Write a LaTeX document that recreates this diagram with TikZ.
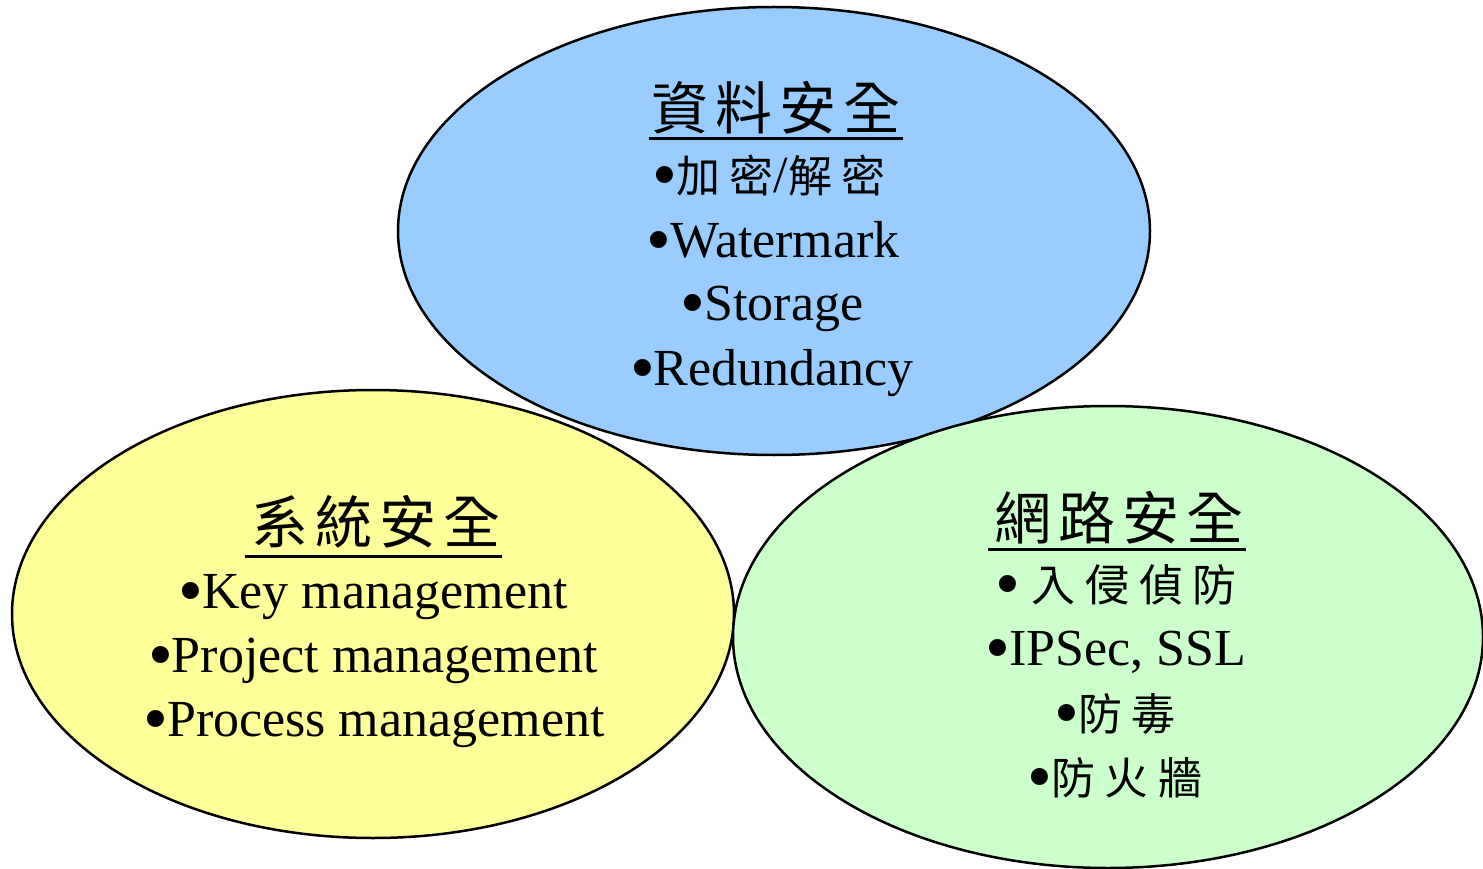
\documentclass[tikz,border=0pt]{standalone}
\usepackage{fontspec}
\setmainfont{Liberation Serif}
\newfontfamily\cjkt[LetterSpace=12]{Noto Sans CJK TC}
\newfontfamily\cjkb[LetterSpace=22]{Noto Sans CJK TC}
\usetikzlibrary{shapes.geometric,calc}
\definecolor{blueF}{HTML}{99CCFF}
\definecolor{yellowF}{HTML}{FFFF99}
\definecolor{greenF}{HTML}{CCFFCC}
\tikzset{
  ell/.style={ellipse, draw=black, line width=2.5pt, inner sep=0pt, outer sep=0pt},
  ttl/.style={inner sep=0pt, anchor=base, font=\fontsize{57}{57}\cjkt},
  item/.style={inner sep=0pt, anchor=base, font=\fontsize{52}{52}\selectfont},
  uline/.style={line width=3pt}
}
\newcommand{\cb}[1]{{\fontsize{44}{44}\cjkb #1}}
\newcommand{\bul}{\raisebox{-6pt}{\fontsize{71}{71}\selectfont •}\kern-1pt}
\begin{document}
\begin{tikzpicture}[x=1pt,y=-1pt]
\useasboundingbox (0,0) rectangle (1483,869);
\fill[white] (0,0) rectangle (1483,869);
% ellipses
\node[ell, fill=blueF, minimum width=752pt, minimum height=448pt] (blue) at (774,231) {};
\node[ell, fill=yellowF, minimum width=722pt, minimum height=448pt] (yellow) at (373,614) {};
\node[ell, fill=greenF, minimum width=750pt, minimum height=462pt] (green) at (1108,637) {};
% blue texts
\node[ttl] (bt) at (776,130) {資料安全};
\draw[uline] ($(bt.base)+(-127,9)$) -- ($(bt.base)+(127,9)$);
\node[item] (b1) at (769,193) {\bul\cb{加密}/\cb{解密}};
\node[item] (b2) at (773,257) {\bul Watermark};
\node[item] (b3) at (772,320) {\bul Storage};
\node[item] (b4) at (772,385) {\bul Redundancy};
% yellow texts
\node[ttl] (yt) at (376,543) {系統安全};
\draw[uline] ($(yt.base)+(-131,13)$) -- ($(yt.base)+(126,13)$);
\node[item] (y1) at (373,608) {\bul Key management};
\node[item] (y2) at (373,672) {\bul Project management};
\node[item] (y3) at (374,736) {\bul Process management};
% green texts
\node[ttl] (gt) at (1119,539) {網路安全};
\draw[uline] ($(gt.base)+(-131,10)$) -- ($(gt.base)+(127,10)$);
\node[item] (g1) at (1116,601) {\bul\ \cb{入侵偵防}};
\node[item] (g2) at (1116,665) {\bul IPSec, SSL};
\node[item] (g3) at (1115,730) {\bul\cb{防毒}};
\node[item] (g4) at (1115,794) {\bul\cb{防火牆}};
\end{tikzpicture}
\end{document}
